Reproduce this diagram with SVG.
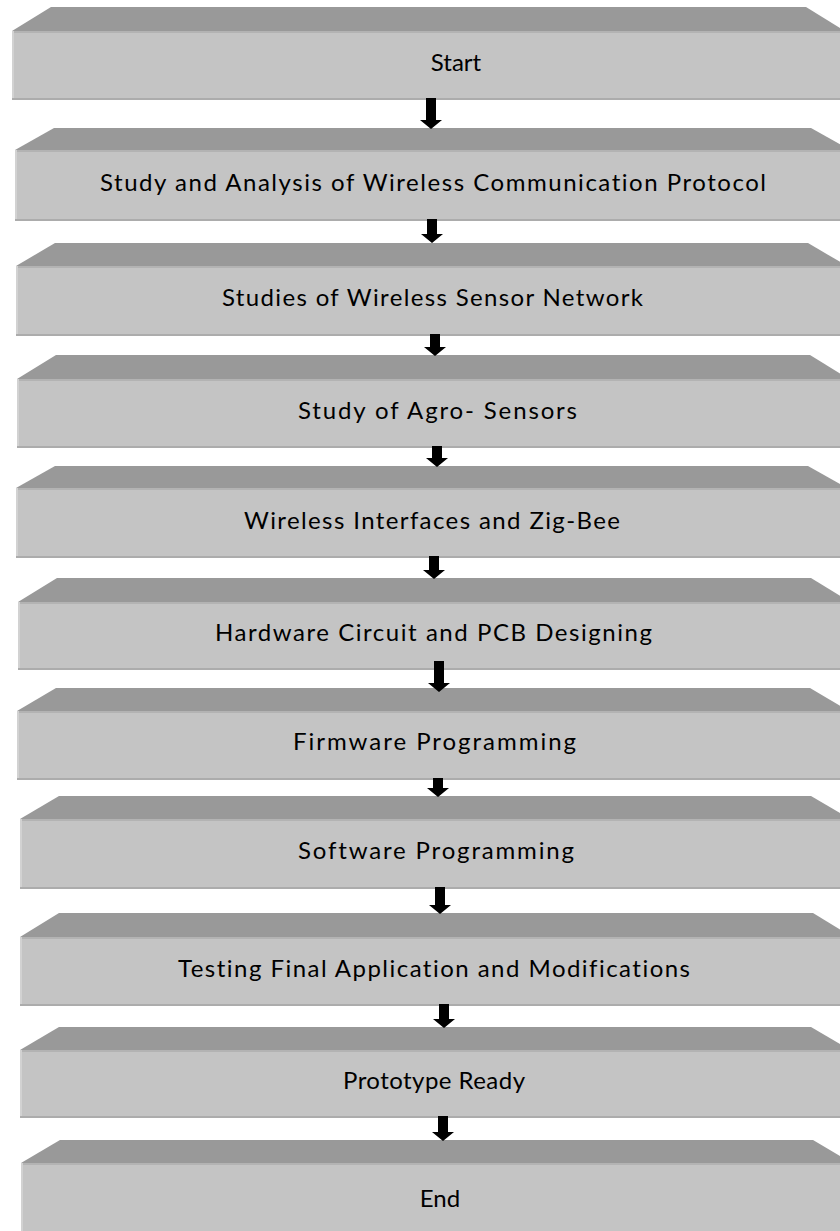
<svg xmlns="http://www.w3.org/2000/svg" width="840" height="1231" viewBox="0 0 840 1231">
<style>
.bevel{fill:#999999}
.face{fill:#c4c4c4}
.lft{fill:#d2d2d2}
.btm{fill:#acacac}
.tp{fill:#b3b3b3}
.lbl{font-family:Lato,"Open Sans","Liberation Sans",sans-serif;font-size:24px;fill:#000;text-anchor:middle;font-variant-ligatures:none}
.arr{fill:#000}
</style>
<rect width="840" height="1231" fill="#fff"/>
<g id="node1">
<polygon class="bevel" points="12,31 51,7 806,7 845,31"/>
<rect class="face" x="12" y="31" width="840" height="69"/>
<rect class="tp" x="12" y="31" width="840" height="2"/>
<rect class="lft" x="12" y="31" width="2" height="69"/>
<rect class="btm" x="12" y="98" width="840" height="2"/>
<text class="lbl" x="456" y="71">Start</text>
</g>
<g id="node2">
<polygon class="bevel" points="15,150 54,128 811,128 850,150"/>
<rect class="face" x="15" y="150" width="840" height="71"/>
<rect class="tp" x="15" y="150" width="840" height="2"/>
<rect class="lft" x="15" y="150" width="2" height="71"/>
<rect class="btm" x="15" y="219" width="840" height="2"/>
<text class="lbl" x="433" y="191" textLength="666" lengthAdjust="spacing">Study and Analysis of Wireless Communication Protocol</text>
</g>
<g id="node3">
<polygon class="bevel" points="16,266 55,243 808,243 847,266"/>
<rect class="face" x="16" y="266" width="840" height="70"/>
<rect class="tp" x="16" y="266" width="840" height="2"/>
<rect class="lft" x="16" y="266" width="2" height="70"/>
<rect class="btm" x="16" y="334" width="840" height="2"/>
<text class="lbl" x="432.5" y="306" textLength="421" lengthAdjust="spacing">Studies of Wireless Sensor Network</text>
</g>
<g id="node4">
<polygon class="bevel" points="17,379 56,355 810,355 849,379"/>
<rect class="face" x="17" y="379" width="840" height="69"/>
<rect class="tp" x="17" y="379" width="840" height="2"/>
<rect class="lft" x="17" y="379" width="2" height="69"/>
<rect class="btm" x="17" y="446" width="840" height="2"/>
<text class="lbl" x="437.5" y="419" textLength="279" lengthAdjust="spacing">Study of Agro- Sensors</text>
</g>
<g id="node5">
<polygon class="bevel" points="16,488 55,466 808,466 847,488"/>
<rect class="face" x="16" y="488" width="840" height="70"/>
<rect class="tp" x="16" y="488" width="840" height="2"/>
<rect class="lft" x="16" y="488" width="2" height="70"/>
<rect class="btm" x="16" y="556" width="840" height="2"/>
<text class="lbl" x="432" y="529" textLength="376" lengthAdjust="spacing">Wireless Interfaces and Zig-Bee</text>
</g>
<g id="node6">
<polygon class="bevel" points="18,602 57,578 811,578 850,602"/>
<rect class="face" x="18" y="602" width="840" height="68"/>
<rect class="tp" x="18" y="602" width="840" height="2"/>
<rect class="lft" x="18" y="602" width="2" height="68"/>
<rect class="btm" x="18" y="668" width="840" height="2"/>
<text class="lbl" x="433.5" y="641" textLength="437" lengthAdjust="spacing">Hardware Circuit and PCB Designing</text>
</g>
<g id="node7">
<polygon class="bevel" points="17,711 56,688 810,688 849,711"/>
<rect class="face" x="17" y="711" width="840" height="69"/>
<rect class="tp" x="17" y="711" width="840" height="2"/>
<rect class="lft" x="17" y="711" width="2" height="69"/>
<rect class="btm" x="17" y="778" width="840" height="2"/>
<text class="lbl" x="434.5" y="750" textLength="283" lengthAdjust="spacing">Firmware Programming</text>
</g>
<g id="node8">
<polygon class="bevel" points="20,819 59,796 811,796 850,819"/>
<rect class="face" x="20" y="819" width="840" height="70"/>
<rect class="tp" x="20" y="819" width="840" height="2"/>
<rect class="lft" x="20" y="819" width="2" height="70"/>
<rect class="btm" x="20" y="887" width="840" height="2"/>
<text class="lbl" x="436" y="859" textLength="276" lengthAdjust="spacing">Software Programming</text>
</g>
<g id="node9">
<polygon class="bevel" points="20,937 59,913 813,913 852,937"/>
<rect class="face" x="20" y="937" width="840" height="69"/>
<rect class="tp" x="20" y="937" width="840" height="2"/>
<rect class="lft" x="20" y="937" width="2" height="69"/>
<rect class="btm" x="20" y="1004" width="840" height="2"/>
<text class="lbl" x="434" y="977" textLength="512" lengthAdjust="spacing">Testing Final Application and Modifications</text>
</g>
<g id="node10">
<polygon class="bevel" points="20,1050 59,1027 811,1027 850,1050"/>
<rect class="face" x="20" y="1050" width="840" height="68"/>
<rect class="tp" x="20" y="1050" width="840" height="2"/>
<rect class="lft" x="20" y="1050" width="2" height="68"/>
<rect class="btm" x="20" y="1116" width="840" height="2"/>
<text class="lbl" x="434" y="1089" textLength="182" lengthAdjust="spacing">Prototype Ready</text>
</g>
<g id="node11">
<polygon class="bevel" points="21,1163 60,1140 813,1140 852,1163"/>
<rect class="face" x="21" y="1163" width="840" height="70"/>
<rect class="tp" x="21" y="1163" width="840" height="2"/>
<rect class="lft" x="21" y="1163" width="2" height="70"/>
<text class="lbl" x="440" y="1207">End</text>
</g>
<g id="connectors">
<polygon class="arr" points="426,98 436,98 436,120 442,120 431,129 420,120 426,120"/>
<polygon class="arr" points="427,219 437,219 437,234 443,234 432,243 421,234 427,234"/>
<polygon class="arr" points="430,334 440,334 440,347 446,347 435,356 424,347 430,347"/>
<polygon class="arr" points="432,446 442,446 442,458 448,458 437,467 426,458 432,458"/>
<polygon class="arr" points="429,556 439,556 439,570 445,570 434,579 423,570 429,570"/>
<polygon class="arr" points="434,661 444,661 444,683 450,683 439,692 428,683 434,683"/>
<polygon class="arr" points="433,778 443,778 443,788 449,788 438,797 427,788 433,788"/>
<polygon class="arr" points="435,887 445,887 445,905 451,905 440,914 429,905 435,905"/>
<polygon class="arr" points="439,1004 449,1004 449,1019 455,1019 444,1028 433,1019 439,1019"/>
<polygon class="arr" points="438,1116 448,1116 448,1132 454,1132 443,1141 432,1132 438,1132"/>
</g>
</svg>
